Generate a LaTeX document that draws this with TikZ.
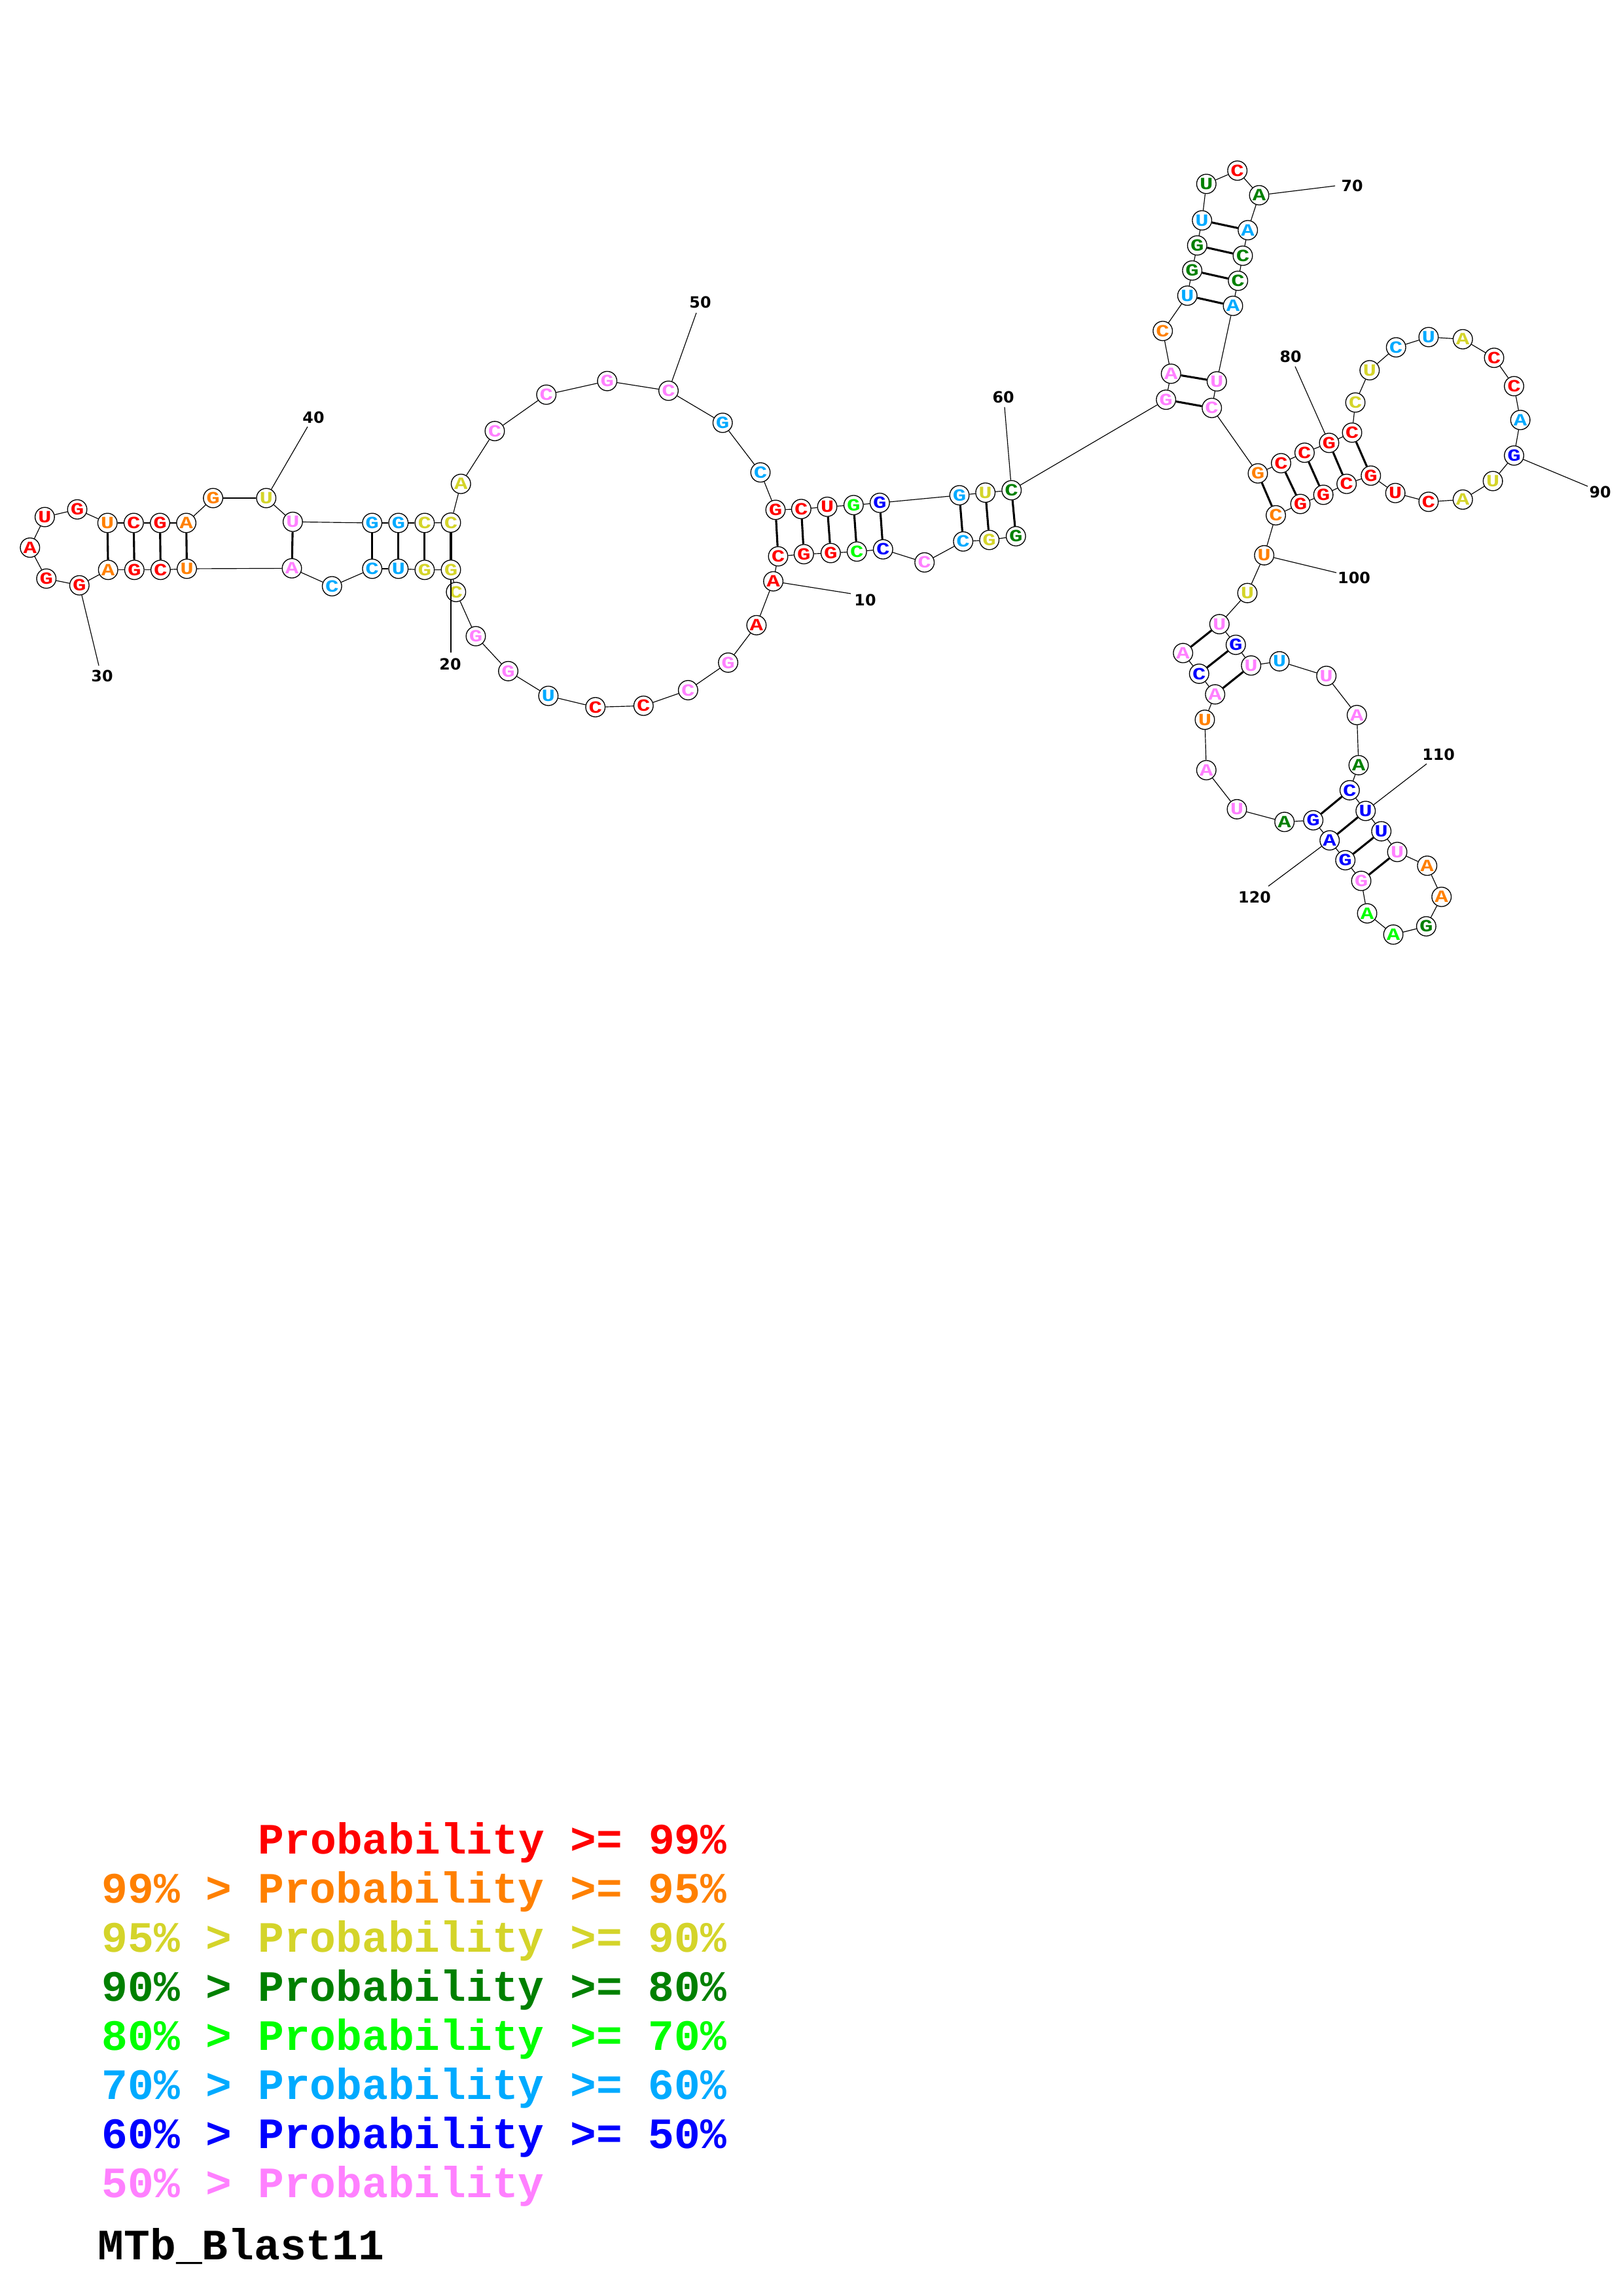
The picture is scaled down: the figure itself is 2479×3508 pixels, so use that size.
\documentclass[tikz,border=0pt]{standalone}
\usepackage{fontspec}
\usepackage{graphicx}
\newfontfamily\monofam{Liberation Mono}
\newfontfamily\numfam{DejaVu Sans}
\definecolor{cR}{RGB}{255,0,0}
\definecolor{cO}{RGB}{255,128,0}
\definecolor{cY}{RGB}{212,212,42}
\definecolor{cD}{RGB}{0,128,0}
\definecolor{cG}{RGB}{0,255,0}
\definecolor{cL}{RGB}{0,170,255}
\definecolor{cB}{RGB}{0,0,255}
\definecolor{cP}{RGB}{255,128,255}
\begin{document}
\begin{tikzpicture}[x=0.24pt,y=-0.24pt,
  nt/.style={circle,draw=black,line width=0.32pt,fill=white,minimum size=7.1pt,inner sep=0pt,font=\monofam\bfseries\fontsize{6.3}{6.3}\selectfont},
  bb/.style={line width=0.28pt,draw=black},
  bp/.style={line width=0.75pt,draw=black},
  numl/.style={font=\numfam\bfseries\fontsize{5.7}{5.7}\selectfont,inner sep=0pt},
  leg/.style={font=\monofam\bfseries\fontsize{15.9}{15.9}\selectfont,inner sep=0pt,anchor=base west}]
\useasboundingbox[fill=white] (0,0) rectangle (2479,3508);
\foreach \i/\b/\c/\x/\y in {
1/G/cD/1552.3/819.3, 2/G/cY/1511.7/825, 3/C/cL/1471.7/827.3, 4/C/cP/1412.7/859.3,
5/C/cB/1349.3/839.3, 6/C/cG/1309.3/842.7, 7/G/cR/1269.3/845, 8/G/cR/1228.3/846.7,
9/C/cR/1189/850, 10/A/cR/1181.6/888.2, 11/A/cR/1155.9/955.2, 12/G/cP/1112.6/1012.4,
13/C/cP/1051.4/1054.5, 14/C/cR/983.3/1078.3, 15/C/cR/909.8/1080.5, 16/U/cL/837.9/1063.2,
17/G/cP/776.6/1025.4, 18/G/cP/727/972, 19/C/cY/696.8/904.5, 20/G/cY/689/870.5,
21/G/cY/648.9/870.7, 22/U/cL/608.8/869, 23/C/cL/568.7/869, 24/C/cL/507.3/895.7,
25/A/cP/446/868.3, 26/U/cO/285.5/869, 27/C/cR/245.4/870.7, 28/G/cR/205.3/870.7,
29/A/cO/165.2/870.7, 30/G/cR/121.3/894.3, 31/G/cR/70.8/884, 32/A/cR/45.8/836.7,
33/U/cR/68.4/790, 34/G/cR/118/778.3, 35/U/cO/164.2/799, 36/C/cR/204.3/799,
37/G/cR/244.5/799, 38/A/cO/284.6/799, 39/G/cO/325.6/761, 40/U/cY/406.8/761,
41/U/cP/447.4/797.3, 42/G/cL/568.7/799, 43/G/cL/608.8/799, 44/C/cY/648.9/799,
45/C/cY/689/798.5, 46/A/cY/704.3/739.3, 47/C/cP/756/658.6, 48/C/cP/834.8/603,
49/G/cP/927.8/582.2, 50/C/cP/1021.5/597, 51/G/cL/1104.2/646, 52/C/cL/1162/721.8,
53/G/cR/1185/779, 54/C/cR/1224.3/777.7, 55/U/cR/1264/774.3, 56/G/cG/1304.3/771.7,
57/G/cB/1344.3/768.3, 58/G/cL/1466/756.7, 59/U/cY/1505.7/752.7, 60/C/cD/1545.7/749,
61/G/cP/1781.7/610.7, 62/A/cP/1789.3/571, 63/C/cO/1776.7/505.7, 64/U/cL/1814.3/451.7,
65/G/cD/1821.7/413.3, 66/G/cD/1829.3/375, 67/U/cL/1836.7/336.7, 68/U/cD/1843.3/281,
69/C/cR/1890.7/260.7, 70/A/cD/1924/298.3, 71/A/cL/1906.7/351.7, 72/C/cD/1899/390.7,
73/C/cD/1891.7/429, 74/A/cL/1884/467.3, 75/U/cP/1859.3/582.7, 76/C/cP/1851.7/623.3,
77/G/cO/1922/723.3, 78/C/cR/1957.5/707.7, 79/C/cR/1993.4/691.7, 80/G/cR/2030.9/676.7,
81/C/cR/2066/661, 82/C/cY/2071/615, 83/U/cY/2092.8/565.7, 84/C/cL/2133.2/530.7,
85/U/cL/2182.9/515, 86/A/cY/2235.2/518.3, 87/C/cR/2283/546.7, 88/C/cR/2313.5/590,
89/A/cL/2323.1/641.7, 90/G/cB/2313.5/696, 91/U/cY/2281.1/735, 92/A/cY/2235.2/763.3,
93/C/cR/2182.9/766.7, 94/U/cR/2132.1/753.3, 95/G/cR/2094.7/726.7, 96/C/cR/2057.6/739.3,
97/G/cR/2022.1/756, 98/G/cR/1987/770, 99/C/cO/1949.5/787.3, 100/U/cO/1931.7/848.4,
101/U/cY/1906/906.1, 102/U/cP/1863.3/953.6, 103/G/cB/1888.3/985.2, 104/U/cP/1911.7/1016.8,
105/U/cL/1955/1010.4, 106/U/cP/2026.7/1032.7, 107/A/cP/2073.3/1092.5, 108/A/cD/2076/1169.1,
109/C/cB/2062.3/1207.4, 110/U/cB/2086.7/1239, 111/U/cB/2110.7/1270.1, 112/U/cP/2135/1301.7,
113/A/cO/2180.7/1322.7, 114/A/cO/2202.7/1370.3, 115/G/cD/2179.3/1415.3, 116/A/cG/2129/1427.9,
117/A/cG/2089/1395.5, 118/G/cP/2080/1345.9, 119/G/cB/2055.7/1314.3, 120/A/cB/2031.7/1284,
121/G/cB/2006.7/1253.3, 122/A/cD/1962.7/1255.8, 123/U/cP/1890/1236.4, 124/A/cP/1843.3/1176.7,
125/U/cO/1841/1099.7, 126/A/cP/1856.7/1060.9, 127/C/cB/1832.3/1029.4, 128/A/cP/1807.7/997.8}
{\node[nt,text=\c] (n\i) at (\x,\y) {\makebox[0pt]{\scalebox{1.3}[1]{\b}}};}
\foreach \i in {1,...,127}{\pgfmathtruncatemacro{\j}{\i+1}\draw[bb] (n\i) -- (n\j);}
\foreach \p/\q in {1/60,2/59,3/58,5/57,6/56,7/55,8/54,9/53,20/45,21/44,22/43,23/42,25/41,
  26/38,27/37,28/36,29/35,61/76,62/75,64/74,65/73,66/72,67/71,77/99,78/98,79/97,80/96,81/95,
  102/128,103/127,104/126,109/121,110/120,111/119,112/118}
{\draw[bp] (n\p) -- (n\q);}
\foreach \k/\ex/\ey/\tx/\ty in {10/1300/907/1322/917, 20/689/997/688/1015, 30/151/1017/156/1033,
  40/470/652/479/638, 50/1064/478/1070/462, 60/1535/622/1533/607, 70/2040/284/2066/284,
  80/1979/560/1972/545, 90/2426/743/2445/752, 100/2042/875/2069/883, 110/2180/1167/2198/1153,
  120/1938/1354/1917/1371}
{\coordinate (e\k) at (\ex,\ey); \node[numl] (l\k) at (\tx,\ty) {\k}; \draw[bb] (n\k) -- (e\k);}
\node[leg,text=cR] (g1) at (394,2832) {Probability >= 99\%};
\node[leg,text=cO] (g2) at (155,2907.5) {99\% > Probability >= 95\%};
\node[leg,text=cY] (g3) at (155,2982) {95\% > Probability >= 90\%};
\node[leg,text=cD] (g4) at (155,3057) {90\% > Probability >= 80\%};
\node[leg,text=cG] (g5) at (155,3132) {80\% > Probability >= 70\%};
\node[leg,text=cL] (g6) at (155,3207) {70\% > Probability >= 60\%};
\node[leg,text=cB] (g7) at (155,3282) {60\% > Probability >= 50\%};
\node[leg,text=cP] (g8) at (155,3357) {50\% > Probability};
\node[leg,text=black] (gt) at (149,3452.6) {MTb\_Blast11};
\end{tikzpicture}
\end{document}
